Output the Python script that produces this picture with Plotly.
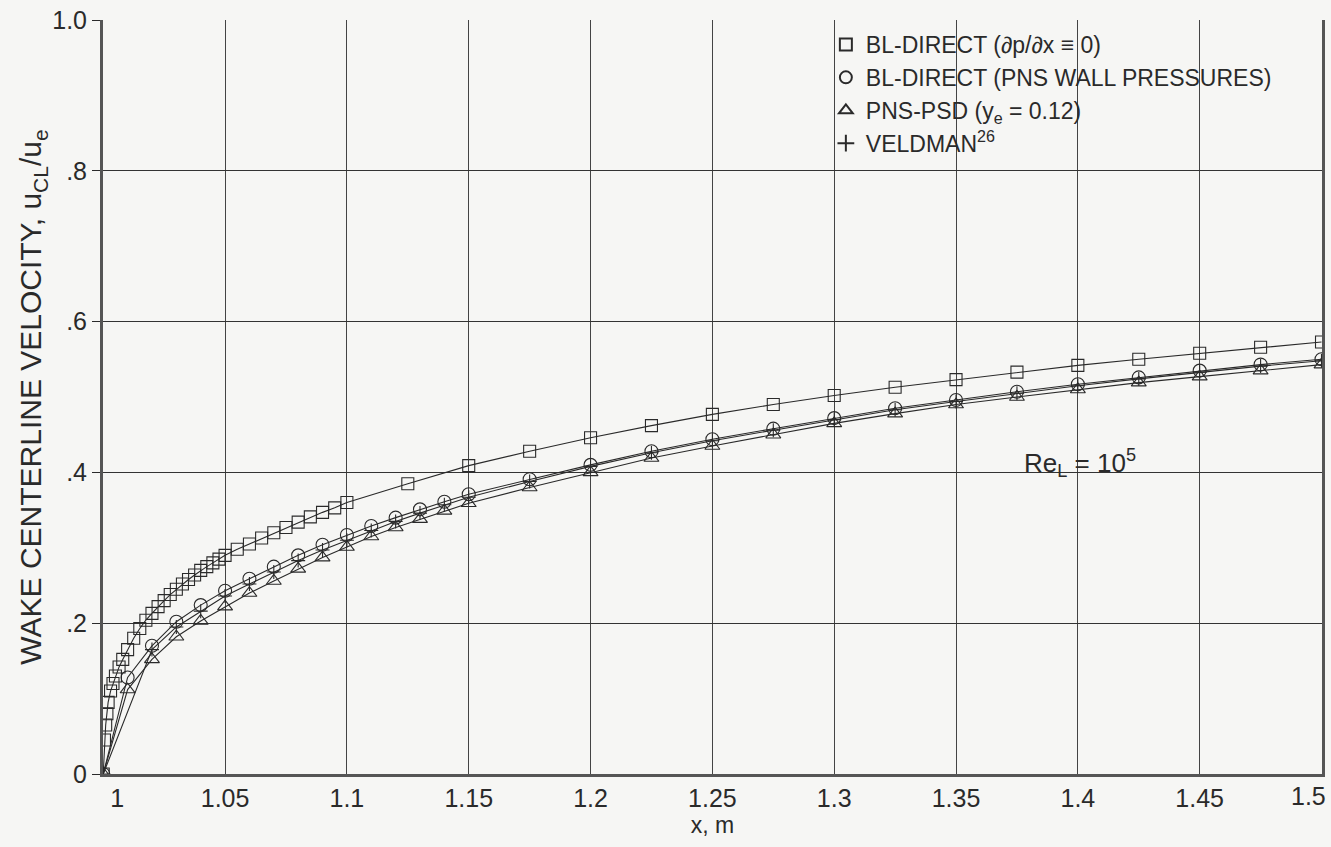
import plotly.graph_objects as go

# ---- data ----
sq_x = [1.0, 1.0005, 1.001, 1.0015, 1.002, 1.003, 1.004, 1.005, 1.0065, 1.008,
        1.01, 1.0125, 1.015, 1.0175, 1.02, 1.0225, 1.025, 1.0275, 1.03, 1.0325,
        1.035, 1.0375, 1.04, 1.0425, 1.045, 1.0475, 1.05, 1.055, 1.06, 1.065,
        1.07, 1.075, 1.08, 1.085, 1.09, 1.095, 1.1, 1.125, 1.15, 1.175,
        1.2, 1.225, 1.25, 1.275, 1.3, 1.325, 1.35, 1.375, 1.4, 1.425,
        1.45, 1.475, 1.5]
sq_y = [0.0, 0.045, 0.065, 0.08, 0.095, 0.11, 0.12, 0.13, 0.142, 0.152,
        0.165, 0.18, 0.193, 0.204, 0.213, 0.222, 0.23, 0.238, 0.245, 0.252,
        0.258, 0.264, 0.27, 0.275, 0.28, 0.285, 0.29, 0.298, 0.305, 0.313,
        0.32, 0.327, 0.334, 0.341, 0.347, 0.353, 0.36, 0.385, 0.409, 0.428,
        0.446, 0.462, 0.477, 0.49, 0.502, 0.513, 0.523, 0.533, 0.542, 0.55,
        0.558, 0.566, 0.573]

ci_x = [1.0, 1.01, 1.02, 1.03, 1.04, 1.05, 1.06, 1.07, 1.08, 1.09, 1.1,
        1.11, 1.12, 1.13, 1.14, 1.15, 1.175, 1.2, 1.225, 1.25, 1.275, 1.3,
        1.325, 1.35, 1.375, 1.4, 1.425, 1.45, 1.475, 1.5]
ci_y = [0.0, 0.128, 0.17, 0.202, 0.224, 0.243, 0.259, 0.275, 0.29, 0.304, 0.317,
        0.329, 0.34, 0.351, 0.361, 0.371, 0.391, 0.41, 0.428, 0.444, 0.458, 0.472,
        0.485, 0.496, 0.507, 0.517, 0.526, 0.535, 0.543, 0.55]

tr_x = [1.0, 1.01, 1.02, 1.03, 1.04, 1.05, 1.06, 1.07, 1.08, 1.09, 1.1,
        1.11, 1.12, 1.13, 1.14, 1.15, 1.175, 1.2, 1.225, 1.25, 1.275, 1.3,
        1.325, 1.35, 1.375, 1.4, 1.425, 1.45, 1.475, 1.5]
tr_y = [0.0, 0.112, 0.152, 0.182, 0.203, 0.222, 0.24, 0.256, 0.272, 0.287, 0.301,
        0.315, 0.327, 0.338, 0.349, 0.359, 0.38, 0.4, 0.419, 0.435, 0.45, 0.465,
        0.478, 0.49, 0.5, 0.51, 0.519, 0.527, 0.535, 0.543]

ve_x = [1.0, 1.02, 1.03, 1.04, 1.05, 1.06, 1.07, 1.08, 1.09, 1.1,
        1.11, 1.12, 1.13, 1.14, 1.15, 1.175, 1.2, 1.225, 1.25, 1.275, 1.3,
        1.325, 1.35, 1.375, 1.4, 1.425, 1.45, 1.475, 1.5]
ve_y = [0.0, 0.165, 0.195, 0.216, 0.236, 0.252, 0.268, 0.283, 0.297, 0.31,
        0.323, 0.335, 0.346, 0.357, 0.367, 0.388, 0.408, 0.426, 0.442, 0.456, 0.47,
        0.483, 0.494, 0.505, 0.515, 0.524, 0.533, 0.541, 0.548]

x_ticks = [1.0, 1.05, 1.1, 1.15, 1.2, 1.25, 1.3, 1.35, 1.4, 1.45]
x_ticktext = ["&nbsp;&nbsp;&nbsp;&nbsp;1", "1.05", "1.1", "1.15", "1.2", "1.25",
              "1.3", "1.35", "1.4", "1.45"]
x_last_tick = 1.5
x_last_text = "1.5"
y_ticks = [0, 0.2, 0.4, 0.6, 0.8, 1.0]
y_ticktext = ["0", ".2", ".4", ".6", ".8", "1.0"]

names = ["BL-DIRECT (\u2202p/\u2202x \u2261 0)",
         "BL-DIRECT (PNS WALL PRESSURES)",
         "PNS-PSD (y<sub>e</sub> = 0.12)",
         "VELDMAN<sup>26</sup>"]

INK = "#2a2a2a"
BG = "#f6f6f4"
FONT = "Liberation Sans, Arial, sans-serif"

fig = go.Figure()

series = [
    (sq_x, sq_y, "square-open", 12),
    (ci_x, ci_y, "circle-open", 13),
    (tr_x, tr_y, "triangle-up-open", 13),
    (ve_x, ve_y, "cross-thin-open", 10),
]
for (xs, ys, sym, sz), nm in zip(series, names):
    fig.add_trace(go.Scatter(
        x=xs, y=ys, mode="lines+markers", name=nm, showlegend=False,
        line=dict(color=INK, width=1.1),
        marker=dict(symbol=sym, size=sz, color=INK, line=dict(color=INK, width=1.1)),
    ))
# legend entries (marker only)
leg_sizes = [15, 16, 16, 20]
for (xs, ys, sym, sz), nm, ls in zip(series, names, leg_sizes):
    fig.add_trace(go.Scatter(
        x=[None], y=[None], mode="markers", name=nm, showlegend=True,
        marker=dict(symbol=sym, size=ls, color=INK, line=dict(color=INK, width=1.3)),
    ))

fig.add_annotation(x=1.4007, y=0.413, xref="x", yref="y",
                   text="Re<sub>L</sub> = 10<sup>5</sup>", showarrow=False,
                   font=dict(family=FONT, size=26, color=INK))
# last x tick label, kept inside the page like the reference
fig.add_annotation(x=x_last_tick, y=0, xref="x", yref="paper",
                   text=x_last_text, showarrow=False,
                   xanchor="right", yanchor="top", xshift=6, yshift=-6,
                   font=dict(family=FONT, size=25, color=INK))

fig.update_layout(
    width=1331, height=847,
    margin=dict(l=103, r=9, t=20, b=73, autoexpand=False),
    paper_bgcolor=BG, plot_bgcolor=BG,
    font=dict(family=FONT, size=24, color=INK),
    legend=dict(x=0.593, y=0.996, xanchor="left", yanchor="top",
                bgcolor="rgba(0,0,0,0)", font=dict(family=FONT, size=23, color=INK),
                itemsizing="constant", tracegroupgap=0),
    xaxis=dict(range=[0.9999, 1.5002], tickvals=x_ticks, ticktext=x_ticktext,
               automargin=False,
               showgrid=True, gridcolor="#444", gridwidth=1,
               showline=True, linecolor="#555", linewidth=3, mirror=False,
               ticks="", zeroline=False,
               tickfont=dict(family=FONT, size=25, color=INK),
               title=dict(text="x, m", standoff=0,
                          font=dict(family=FONT, size=23, color=INK))),
    yaxis=dict(range=[0, 1.0], tickvals=y_ticks, ticktext=y_ticktext,
               automargin=False,
               showgrid=True, gridcolor="#333", gridwidth=1.3,
               showline=True, linecolor="#555", linewidth=3, mirror=True,
               ticks="outside", ticklen=8, tickcolor=INK, zeroline=False,
               tickfont=dict(family=FONT, size=25, color=INK),
               title=dict(text="WAKE CENTERLINE VELOCITY, u<sub>CL</sub>/u<sub>e</sub>",
                          standoff=2,
                          font=dict(family=FONT, size=30, color=INK))),
)

fig.write_html("out.html")
